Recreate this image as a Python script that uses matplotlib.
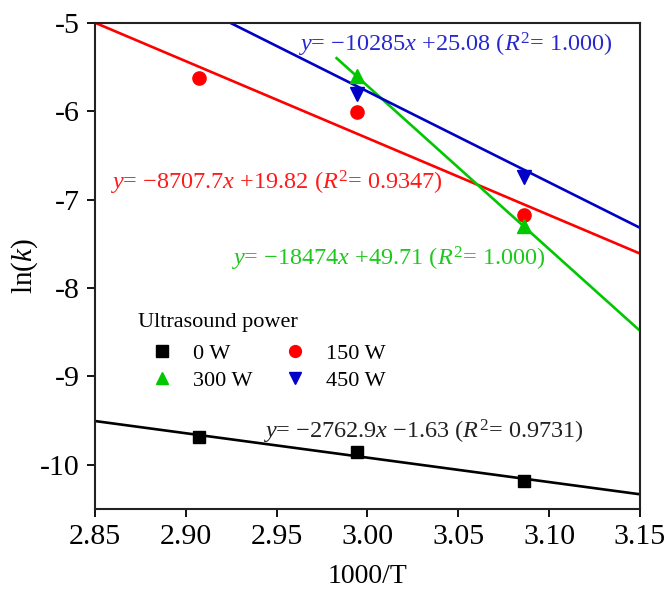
import numpy as np
import matplotlib
matplotlib.use("Agg")
import matplotlib.pyplot as plt

plt.rcParams['font.family'] = ['Liberation Serif', 'DejaVu Serif']
plt.rcParams['mathtext.fontset'] = 'custom'
plt.rcParams['mathtext.rm'] = 'Liberation Serif'
plt.rcParams['mathtext.it'] = 'Liberation Serif:italic'
plt.rcParams['axes.unicode_minus'] = False

# 1000/T for the three temperatures
inv_T = [2.907, 2.994, 3.086]

powers = ['0 W', '150 W', '300 W', '450 W']
ln_k_0 = [-9.68, -9.85, -10.18]
ln_k_150 = [-5.62, -6.01, -7.17]
ln_k_300 = [None, -5.60, -7.30]
ln_k_450 = [None, -5.80, -6.74]

# Arrhenius fits: ln(k) = slope * (1/T) + intercept
slopes = [-2762.9, -8707.7, -18474, -10285]
intercepts = [-1.63, 19.82, 49.71, 25.08]
r2_text = ['0.9731', '0.9347', '1.000', '1.000']
fit_start = [2.85, 2.85, 2.983, 2.85]

colors = ['black', '#ff0000', '#00c800', '#0000c8']
text_colors = ['#222222', '#ff1a1a', '#1ec81e', '#2828d2']
markers = ['s', 'o', '^', 'v']
msizes = [9, 9.5, 10.5, 10.5]
# where each equation sits (data coords, left edge / vertical centre)
eq_pos = [(2.9425, -9.63), (2.858, -6.81), (2.925, -7.675), (2.9615, -5.25)]

fig = plt.figure(figsize=(6.67, 5.91), dpi=100)
ax = fig.add_axes([0.1424, 0.1387, 0.8171, 0.8224])

series = [ln_k_0, ln_k_150, ln_k_300, ln_k_450]
handles = []
for i in range(4):
    xs = np.linspace(fit_start[i], 3.15, 50)
    ax.plot(xs, slopes[i] / 1000 * xs + intercepts[i], color=colors[i],
            lw=1.9, zorder=2)
    px = [x for x, y in zip(inv_T, series[i]) if y is not None]
    py = [y for y in series[i] if y is not None]
    h, = ax.plot(px, py, ls='none', marker=markers[i], ms=msizes[i],
                 color=colors[i], zorder=3)
    handles.append(h)

    sign = '+' if intercepts[i] >= 0 else '\u2212'
    eq = (r'$y$= ' + '\u2212' + f'{abs(slopes[i]):g}' + r'$x$ ' + sign +
          f'{abs(intercepts[i]):.2f}' + r' ($R^2$= ' + r2_text[i] + ')')
    ax.text(eq_pos[i][0], eq_pos[i][1], eq, color=text_colors[i],
            fontsize=17.5, ha='left', va='center')

ax.set_xlim(2.85, 3.15)
ax.set_ylim(-10.5, -5)
ax.set_xticks(np.arange(2.85, 3.151, 0.05))
ax.set_xticklabels([f'{v:.2f}' for v in np.arange(2.85, 3.151, 0.05)])
ax.set_yticks([-10, -9, -8, -7, -6, -5])
ax.tick_params(direction='out', length=6, width=1.3, labelsize=21.5, pad=5)
for s in ax.spines.values():
    s.set_linewidth(1.5)
    s.set_color('#222222')

ax.set_xlabel('1000/T', fontsize=20, labelpad=10)
ax.set_ylabel(r'ln($k$)', fontsize=21, labelpad=0)

# legend order: 0 W, 300 W in first column, 150 W, 450 W in second
order = [0, 2, 1, 3]
leg = ax.legend([handles[k] for k in order], [powers[k] for k in order],
                ncol=2, frameon=False, fontsize=16, title='Ultrasound power',
                title_fontsize=16, alignment='left', numpoints=1,
                handlelength=2.2, handletextpad=0.27, columnspacing=0.82,
                labelspacing=0.3, borderpad=0, borderaxespad=0,
                loc='upper left', bbox_to_anchor=(138 / 667, 1 - 313 / 591),
                bbox_transform=fig.transFigure)
leg._legend_box.sep = 8
for lh in leg.legend_handles:
    lh.set_markersize(8.5)

fig.savefig('out.png', dpi=100)
